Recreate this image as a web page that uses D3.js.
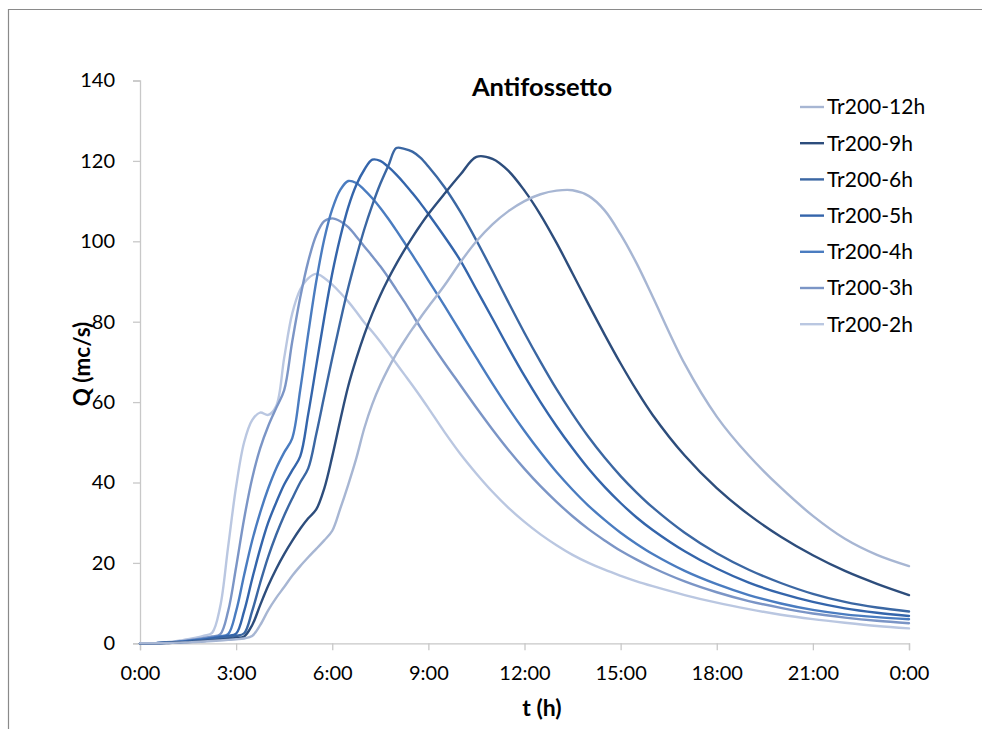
<!DOCTYPE html>
<html>
<head>
<meta charset="utf-8">
<script src="https://cdn.jsdelivr.net/npm/d3@7/dist/d3.min.js"></script>
<style>
  html, body { margin: 0; padding: 0; background: #ffffff; overflow: hidden; }
  svg { display: block; }
  text { font-family: Lato, "Open Sans", "DejaVu Sans", sans-serif; fill: #000; }
</style>
</head>
<body>
<svg id="chart" width="982" height="729"></svg>
<script>
// Time grid (hours from start of event)
const hours = [
  0, 0.25, 0.5, 0.75, 1, 1.25, 1.5, 1.75, 2, 2.25, 2.5, 2.75, 3, 3.25, 3.5, 3.75,
  4, 4.25, 4.5, 4.75, 5, 5.25, 5.5, 5.75, 6, 6.25, 6.5, 6.75, 7, 7.25, 7.5, 7.75,
  8, 8.25, 8.5, 8.75, 9, 9.5, 10, 10.5, 11, 11.5, 12, 12.5, 13, 13.5, 14, 14.5,
  15, 15.5, 16, 17, 18, 19, 20, 21, 22, 23, 24
];

// Discharge Q (mc/s) for each storm duration, return period 200 years
const q12h = [
  0, 0, 0.02, 0.05, 0.1, 0.16, 0.24, 0.33, 0.44, 0.56, 0.7, 0.85, 1.0, 1.2, 1.8, 4.5,
  8.2, 11.3, 14, 16.8, 19.2, 21.4, 23.5, 25.6, 28, 33.5, 39.5, 46, 53.5, 59.5, 64.3, 68.4,
  72, 75.2, 78.2, 81, 83.7, 89, 94.8, 100, 104.2, 107.5, 110, 111.7, 112.6, 112.7, 111.3, 107.7,
  101.7, 94.5, 86.2, 69.5, 56.4, 46.7, 38.7, 31.7, 26, 22, 19.2
];
const q9h = [
  0, 0, 0.02, 0.06, 0.12, 0.2, 0.3, 0.42, 0.56, 0.72, 0.9, 1.1, 1.35, 1.7, 4.5, 9.5,
  14.3, 18.5, 22.2, 25.5, 28.5, 31.1, 33.3, 38.5, 46.5, 55.5, 64, 70.8, 76.8, 82, 86.6, 90.7,
  94.4, 97.8, 101, 104, 106.8, 111.8, 116.6, 121, 120.5, 117.5, 112.6, 106.6, 99.6, 92, 84.3, 76.8,
  69.6, 62.9, 56.8, 46.7, 38.6, 32, 26.5, 21.9, 18, 14.8, 12.0
];
const q6h = [
  0, 0, 0.03, 0.08, 0.16, 0.27, 0.4, 0.56, 0.75, 0.97, 1.22, 1.5, 1.85, 2.5, 8, 15,
  21.5, 27, 31.8, 36, 40, 43.5, 52, 61.5, 71, 80, 88.5, 96, 103, 109, 114.3, 118.8,
  123.2, 123.0, 122.3, 120.8, 118.6, 113.5, 107.3, 100.2, 92.6, 84.8, 77.2, 70, 63.2, 57, 51.3, 46.2,
  41.6, 37.5, 33.8, 27.5, 22.4, 18.3, 15.0, 12.3, 10.3, 8.9, 7.9
];
const q5h = [
  0, 0, 0.04, 0.1, 0.2, 0.33, 0.5, 0.7, 0.92, 1.18, 1.5, 1.85, 2.4, 8, 16, 23.5,
  30, 35, 39.5, 43, 46.5, 57, 69, 81, 92, 101, 108.5, 114, 117.8, 120.3, 120, 118.5,
  116.6, 114.4, 112, 109.5, 106.8, 101.2, 95.2, 88, 80.8, 73.5, 66.5, 60, 54, 48.5, 43.4, 38.9,
  34.9, 31.3, 28.2, 22.9, 18.6, 15.1, 12.4, 10.3, 8.7, 7.6, 6.8
];
const q4h = [
  0, 0, 0.05, 0.12, 0.25, 0.4, 0.6, 0.85, 1.1, 1.4, 1.75, 2.3, 8, 17, 25.5, 32.5,
  38.5, 43.5, 47.5, 51, 63, 77, 90, 100.5, 108, 112.8, 115, 114.5, 112.8, 110.7, 108.3, 105.6,
  102.7, 99.7, 96.6, 93.5, 90.3, 84, 77.5, 71, 64.6, 58.5, 52.8, 47.5, 42.6, 38.2, 34.2, 30.7,
  27.5, 24.7, 22.2, 18.0, 14.7, 12.0, 9.9, 8.3, 7.2, 6.5, 6.0
];
const q3h = [
  0, 0, 0.05, 0.15, 0.3, 0.5, 0.75, 1.0, 1.35, 1.7, 2.2, 8, 19, 31, 41, 48.5,
  54, 58.5, 63, 75, 86, 95, 101.5, 105, 105.7, 105, 103.5, 101.2, 98.7, 96.3, 93.8, 91,
  88, 85, 81.8, 78.6, 75.6, 69.8, 64.2, 58.6, 53.2, 48.1, 43.4, 39.1, 35.2, 31.6, 28.4, 25.6,
  23.0, 20.8, 18.8, 15.4, 12.7, 10.5, 8.8, 7.4, 6.4, 5.6, 5.0
];
const q2h = [
  0, 0, 0.05, 0.2, 0.4, 0.7, 1.0, 1.4, 1.9, 2.6, 9, 24, 39, 50, 55.5, 57.4,
  56.8, 59, 71, 82, 88, 90.8, 91.9, 90.9, 89.2, 87.2, 85, 82.5, 79.8, 77.5, 75, 72.3,
  69.6, 66.9, 64.2, 61.4, 58.5, 52.6, 47.1, 42.2, 37.7, 33.7, 30.2, 27.1, 24.4, 22.0, 20.0, 18.3,
  16.8, 15.4, 14.2, 12.0, 10.1, 8.5, 7.1, 6.0, 5.1, 4.3, 3.7
];

// Series names in legend order, with line colours
const seriesNames = ["Tr200-12h", "Tr200-9h", "Tr200-6h", "Tr200-5h", "Tr200-4h", "Tr200-3h", "Tr200-2h"];
const seriesValues = [q12h, q9h, q6h, q5h, q4h, q3h, q2h];
const seriesColors = ["#a7b6d3", "#2d4d7c", "#3b67a3", "#3465ab", "#4a7cc0", "#7b95c6", "#bac7e1"];

// Axis ticks
const yTicks = [0, 20, 40, 60, 80, 100, 120, 140];
const xTickHours = [0, 3, 6, 9, 12, 15, 18, 21, 24];
const xTickLabels = ["0:00", "3:00", "6:00", "9:00", "12:00", "15:00", "18:00", "21:00", "0:00"];

const chartTitle = "Antifossetto";
const xTitle = "t (h)";
const yTitle = "Q (mc/s)";

// ---- drawing ----
const svg = d3.select("#chart");
const W = 982, H = 729;
const plot = { left: 140, right: 909, top: 80.5, bottom: 643.3 };

svg.append("rect").attr("width", W).attr("height", H).attr("fill", "#ffffff");

// chart frame (only its top and left edges fall inside the page)
svg.append("path")
  .attr("d", `M8.5,${H + 5}V9.5H${W + 5}`)
  .attr("fill", "none").attr("stroke", "#8a8a8a").attr("stroke-width", 1.2);

const x = d3.scaleLinear().domain([0, 24]).range([plot.left, plot.right]);
const y = d3.scaleLinear().domain([0, 140]).range([plot.bottom, plot.top]);

const axisColor = "#c8c8c8";
const tickFont = 20;

// y axis
const yAxis = svg.append("g")
  .attr("transform", `translate(${plot.left},0)`)
  .call(d3.axisLeft(y).tickValues(yTicks).tickSize(7).tickPadding(18).tickFormat(d3.format("d")));
yAxis.select(".domain").attr("stroke", axisColor).attr("stroke-width", 1.3);
yAxis.selectAll(".tick line").attr("stroke", axisColor).attr("stroke-width", 1.3);
yAxis.selectAll(".tick text")
  .attr("font-family", "Lato, 'Open Sans', sans-serif")
  .attr("font-size", tickFont).attr("fill", "#000");

// x axis
const xAxis = svg.append("g")
  .attr("transform", `translate(0,${plot.bottom})`)
  .call(d3.axisBottom(x).tickValues(xTickHours).tickSize(7).tickPadding(16)
    .tickFormat((d, i) => xTickLabels[i]));
xAxis.select(".domain").attr("stroke", axisColor).attr("stroke-width", 1.3);
xAxis.selectAll(".tick line").attr("stroke", axisColor).attr("stroke-width", 1.3);
xAxis.selectAll(".tick text")
  .attr("font-family", "Lato, 'Open Sans', sans-serif")
  .attr("font-size", tickFont).attr("fill", "#000");

// series lines (drawn so that the first legend entry ends up on top)
const line = d3.line()
  .x((d, i) => x(hours[i]))
  .y(d => y(d))
  .curve(d3.curveCatmullRom.alpha(0.5));

const order = d3.range(seriesNames.length).reverse();
svg.append("g").selectAll("path")
  .data(order)
  .join("path")
  .attr("d", k => line(seriesValues[k]))
  .attr("fill", "none")
  .attr("stroke", k => seriesColors[k])
  .attr("stroke-width", 2.4)
  .attr("stroke-linejoin", "round")
  .attr("stroke-linecap", "round");

// title
svg.append("text")
  .attr("x", 542).attr("y", 96)
  .attr("text-anchor", "middle")
  .attr("font-weight", "bold").attr("font-size", 25.5)
  .text(chartTitle);

// axis titles
svg.append("text")
  .attr("x", 542).attr("y", 716)
  .attr("text-anchor", "middle")
  .attr("font-weight", "bold").attr("font-size", 23)
  .text(xTitle);

svg.append("text")
  .attr("transform", "translate(90,364) rotate(-90)")
  .attr("text-anchor", "middle")
  .attr("font-weight", "bold").attr("font-size", 22.5)
  .text(yTitle);

// legend
const legend = svg.append("g").attr("transform", "translate(800,107)");
const rows = legend.selectAll("g")
  .data(seriesNames)
  .join("g")
  .attr("transform", (d, i) => `translate(0,${i * 36.2})`);
rows.append("line")
  .attr("x1", 0).attr("x2", 24).attr("y1", 0).attr("y2", 0)
  .attr("stroke", (d, i) => seriesColors[i]).attr("stroke-width", 2.4);
rows.append("text")
  .attr("x", 27).attr("y", 0).attr("dy", "0.35em")
  .attr("font-size", 21)
  .text(d => d);
</script>
</body>
</html>
